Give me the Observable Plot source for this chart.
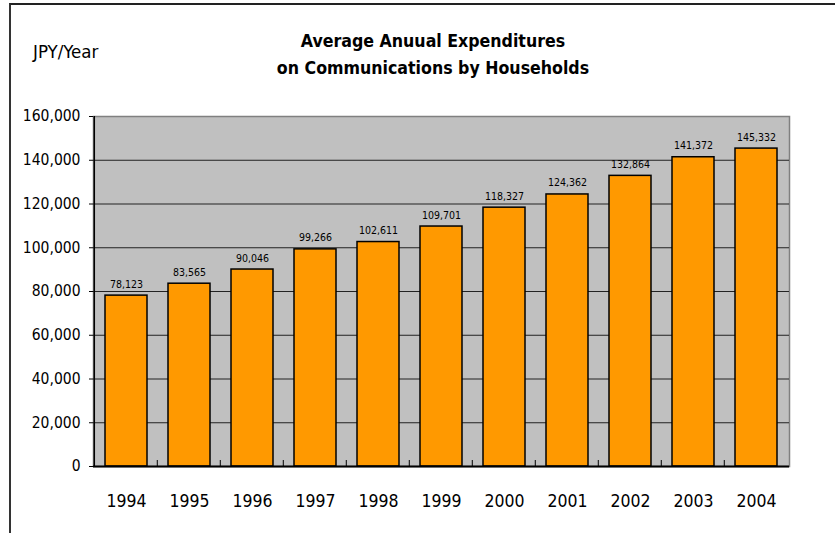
<!DOCTYPE html>
<html>
<head>
<meta charset="utf-8">
<script src="https://cdn.jsdelivr.net/npm/d3@7"></script>
<script src="https://cdn.jsdelivr.net/npm/@observablehq/plot@0.6"></script>
<style>
  html, body { margin: 0; padding: 0; background: #fff; }
  #wrap { position: relative; width: 835px; height: 533px; overflow: hidden;
          font-family: "DejaVu Sans Condensed", "DejaVu Sans", sans-serif; font-stretch: condensed; }
  #border { position: absolute; left: 9px; top: 3px; width: 900px; height: 600px;
            border-left: 2px solid #333; border-top: 2px solid #222; box-sizing: border-box; }
  #title { position: absolute; left: 183px; width: 500px; top: 28px; text-align: center;
           font-weight: bold; font-size: 17.6px; line-height: 27px; color: #000; }
  #unit { position: absolute; left: 33px; top: 41px; font-size: 18.5px; color: #000; }
  #chart { position: absolute; left: 0; top: 0; }
  #chart svg text { font-stretch: condensed; }
</style>
</head>
<body>
<div id="wrap">
  <div id="border"></div>
  <div id="unit">JPY/Year</div>
  <div id="title">Average Anuual Expenditures<br>on Communications by Households</div>
  <div id="chart"></div>
</div>
<script>
const years = ["1994","1995","1996","1997","1998","1999","2000","2001","2002","2003","2004"];
const spending = [78123, 83565, 90046, 99266, 102611, 109701, 118327, 124362, 132864, 141372, 145332];
const yTicks = [0, 20000, 40000, 60000, 80000, 100000, 120000, 140000, 160000];

const data = years.map((year, i) => ({year, value: spending[i]}));
const fmt = d3.format(",");
const font = '"DejaVu Sans Condensed", "DejaVu Sans", sans-serif';

// left axis line and small tick marks on the baseline at the category boundaries
function axisDecor(index, scales, values, dims) {
  const g = d3.create("svg:g");
  const x = scales.x;
  const y0 = scales.y(0);
  const yTop = scales.y(160000);
  const step = x(years[1]) - x(years[0]);
  const left = x(years[0]) - step * 0.17;
  g.append("line").attr("x1", left).attr("x2", left).attr("y1", yTop).attr("y2", y0)
    .attr("stroke", "#000").attr("stroke-width", 1.5);
  for (let k = 1; k < years.length; k++) {
    const bx = x(years[k]) - step * 0.17;
    g.append("line").attr("x1", bx).attr("x2", bx).attr("y1", y0).attr("y2", y0 - 6)
      .attr("stroke", "#000").attr("stroke-width", 1);
  }
  return g.node();
}

const chart = Plot.plot({
  width: 835,
  height: 533,
  marginTop: 116,
  marginBottom: 67,
  marginLeft: 93,
  marginRight: 46,
  style: {fontFamily: font, background: "transparent", color: "#000"},
  x: {domain: years, paddingInner: 0.34, paddingOuter: 0.17, label: null},
  y: {domain: [0, 160000], ticks: yTicks, label: null},
  marks: [
    Plot.frame({fill: "#c0c0c0", stroke: "#808080", strokeWidth: 1.5}),
    Plot.gridY(yTicks.filter(d => d > 0 && d < 160000), {stroke: "#222", strokeOpacity: 1, strokeWidth: 1}),
    Plot.barY(data, {x: "year", y: "value", fill: "#ff9900", stroke: "#000", strokeWidth: 1.5}),
    Plot.text(data, {x: "year", y: "value", text: d => fmt(d.value), lineAnchor: "bottom", dy: -8,
      fontSize: 10.5, fill: "#000", fontFamily: font}),
    axisDecor,
    Plot.ruleY([0], {stroke: "#000", strokeWidth: 2}),
    Plot.axisY({ticks: yTicks, tickFormat: d => fmt(d), tickSize: 4, tickPadding: 9, fontSize: 15.5, stroke: "#000"}),
    Plot.axisX({tickSize: 0, tickPadding: 28, fontSize: 17.5})
  ]
});
document.getElementById("chart").appendChild(chart);
</script>
</body>
</html>
